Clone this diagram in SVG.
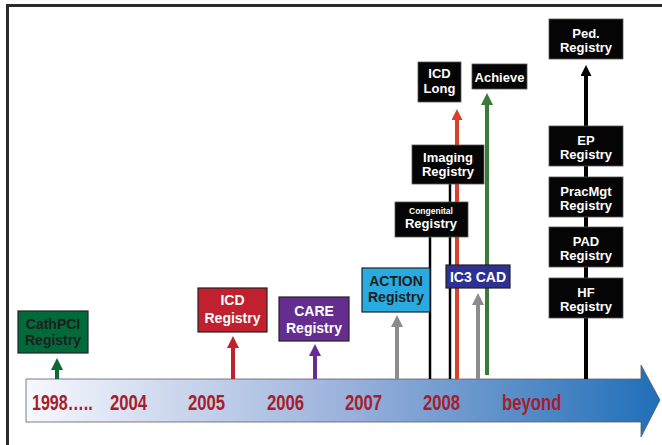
<svg xmlns="http://www.w3.org/2000/svg" width="662" height="445" viewBox="0 0 662 445">
<defs>
<style>
.t{font-family:"Liberation Sans",Arial,sans-serif;font-weight:bold;text-anchor:middle;font-size:13px;fill:#fff}
.t.s14{font-size:14px}
.t.s9{font-size:8.5px}
.t.dk{fill:#1e1e1e}
.yr{font-family:"Liberation Sans",Arial,sans-serif;font-weight:bold;font-size:22px;fill:#a51e2c}
.bk{fill:#050505;stroke:#555;stroke-width:0.8}
.cb{stroke:#222;stroke-width:1.2}
.sh{fill:none;stroke-width:4}
.thin{fill:none;stroke:#000;stroke-width:2.5}
</style>
<linearGradient id="tl" x1="0" y1="0" x2="1" y2="0">
<stop offset="0" stop-color="#f7f8fd"/>
<stop offset="0.5" stop-color="#9cb2dc"/>
<stop offset="1" stop-color="#1f6fb8"/>
</linearGradient>
<marker id="mGreen" viewBox="0 0 12 12" refX="0" refY="6" markerWidth="12" markerHeight="12" markerUnits="userSpaceOnUse" orient="auto"><path d="M0,0 L12,6 L0,12 z" fill="#0a6b38"/></marker>
<marker id="mRed" viewBox="0 0 12 12" refX="0" refY="6" markerWidth="12" markerHeight="12" markerUnits="userSpaceOnUse" orient="auto"><path d="M0,0 L12,6 L0,12 z" fill="#c1202f"/></marker>
<marker id="mPurple" viewBox="0 0 12 12" refX="0" refY="6" markerWidth="12" markerHeight="12" markerUnits="userSpaceOnUse" orient="auto"><path d="M0,0 L12,6 L0,12 z" fill="#662d91"/></marker>
<marker id="mGray" viewBox="0 0 12 12" refX="0" refY="6" markerWidth="12" markerHeight="12" markerUnits="userSpaceOnUse" orient="auto"><path d="M0,0 L12,6 L0,12 z" fill="#8c8c8c"/></marker>
<marker id="mOrange" viewBox="0 0 12 12" refX="0" refY="6" markerWidth="12" markerHeight="11" markerUnits="userSpaceOnUse" orient="auto"><path d="M0,0 L12,6 L0,12 z" fill="#d9402a"/></marker>
<marker id="mDkGreen" viewBox="0 0 12 12" refX="0" refY="6" markerWidth="12" markerHeight="12" markerUnits="userSpaceOnUse" orient="auto"><path d="M0,0 L12,6 L0,12 z" fill="#3a7a3a"/></marker>
<marker id="mBlack" viewBox="0 0 12 12" refX="0" refY="6" markerWidth="14" markerHeight="11" markerUnits="userSpaceOnUse" orient="auto"><path d="M0,0 L12,6 L0,12 z" fill="#000"/></marker>
</defs>
<rect width="662" height="445" fill="#fff"/>
<path d="M7.5,445 V5.5 H662" fill="none" stroke="#2b2b2b" stroke-width="3"/>

<g id="timeline">
<polygon points="26,379 641,379 641,365 660,400 641,437 641,422 26,422" fill="url(#tl)" stroke="#5a5a6a" stroke-width="0.8"/>
<text class="yr" transform="translate(32,410) scale(0.73,1)">1998…..</text>
<text class="yr" transform="translate(110,410) scale(0.76,1)">2004</text>
<text class="yr" transform="translate(188,410) scale(0.76,1)">2005</text>
<text class="yr" transform="translate(267,410) scale(0.76,1)">2006</text>
<text class="yr" transform="translate(345,410) scale(0.76,1)">2007</text>
<text class="yr" transform="translate(423,410) scale(0.76,1)">2008</text>
<text class="yr" transform="translate(502,410) scale(0.76,1)">beyond</text>
</g>

<g id="connectors">
<line class="sh" x1="57" y1="379" x2="57" y2="370" stroke="#0a6b38" marker-end="url(#mGreen)"/>
<line class="sh" x1="233" y1="379" x2="233" y2="348" stroke="#c1202f" marker-end="url(#mRed)"/>
<line class="sh" x1="315" y1="379" x2="315" y2="356" stroke="#662d91" marker-end="url(#mPurple)"/>
<line class="sh" x1="397" y1="379" x2="397" y2="327" stroke="#8c8c8c" marker-end="url(#mGray)"/>
<line class="thin" x1="430" y1="237" x2="430" y2="379"/>
<line class="thin" x1="450" y1="184" x2="450" y2="379"/>
<line class="sh" x1="457" y1="379" x2="457" y2="120" stroke="#d9402a" marker-end="url(#mOrange)"/>
<line class="sh" x1="478" y1="379" x2="478" y2="305" stroke="#8c8c8c" marker-end="url(#mGray)"/>
<line class="sh" x1="487" y1="375" x2="487" y2="105" stroke="#3a7a3a" marker-end="url(#mDkGreen)"/>
<line class="sh" x1="586" y1="379" x2="586" y2="76" stroke="#000" marker-end="url(#mBlack)"/>
</g>

<g id="cathpci">
<rect class="cb" x="18" y="311" width="70" height="42" fill="#006b3a"/>
<text class="t s14 dk" x="53" y="329">CathPCI</text>
<text class="t s14 dk" x="53" y="345">Registry</text>
</g>
<g id="icd">
<rect class="cb" x="198" y="288" width="69" height="44" fill="#c1202f"/>
<text class="t s14" x="232.5" y="305">ICD</text>
<text class="t s14" x="232.5" y="323">Registry</text>
</g>
<g id="care">
<rect class="cb" x="279" y="297" width="70" height="44" fill="#662d91"/>
<text class="t s14" x="314" y="316">CARE</text>
<text class="t s14" x="314" y="333">Registry</text>
</g>
<g id="action">
<rect class="cb" x="362" y="268" width="68" height="44" fill="#29aae1"/>
<text class="t s14 dk" x="396" y="286">ACTION</text>
<text class="t s14 dk" x="396" y="302">Registry</text>
</g>
<g id="ic3cad">
<rect class="cb" x="446" y="265" width="64" height="23" fill="#2e3192"/>
<text class="t s14" x="478" y="282">IC3 CAD</text>
</g>
<g id="congenital">
<rect class="bk" x="395" y="202" width="73" height="35"/>
<text class="t s9" x="431" y="214">Congenital</text>
<text class="t" x="431" y="228">Registry</text>
</g>
<g id="imaging">
<rect class="bk" x="412" y="145" width="72" height="39"/>
<text class="t" x="448" y="162">Imaging</text>
<text class="t" x="448" y="176">Registry</text>
</g>
<g id="icdlong">
<rect class="bk" x="418" y="62" width="43" height="40"/>
<text class="t" x="439.5" y="78">ICD</text>
<text class="t" x="439.5" y="93">Long</text>
</g>
<g id="achieve">
<rect class="bk" x="472" y="64" width="55" height="25"/>
<text class="t" x="499.5" y="82">Achieve</text>
</g>
<g id="ped">
<rect class="bk" x="549" y="19" width="74" height="40"/>
<text class="t" x="586" y="38">Ped.</text>
<text class="t" x="586" y="52">Registry</text>
</g>
<g id="ep">
<rect class="bk" x="549" y="126" width="74" height="40"/>
<text class="t" x="586" y="145">EP</text>
<text class="t" x="586" y="159">Registry</text>
</g>
<g id="pracmgt">
<rect class="bk" x="549" y="177" width="74" height="40"/>
<text class="t" x="586" y="196">PracMgt</text>
<text class="t" x="586" y="210">Registry</text>
</g>
<g id="pad">
<rect class="bk" x="549" y="227" width="74" height="40"/>
<text class="t" x="586" y="246">PAD</text>
<text class="t" x="586" y="260">Registry</text>
</g>
<g id="hf">
<rect class="bk" x="549" y="278" width="74" height="40"/>
<text class="t" x="586" y="297">HF</text>
<text class="t" x="586" y="311">Registry</text>
</g>
</svg>
